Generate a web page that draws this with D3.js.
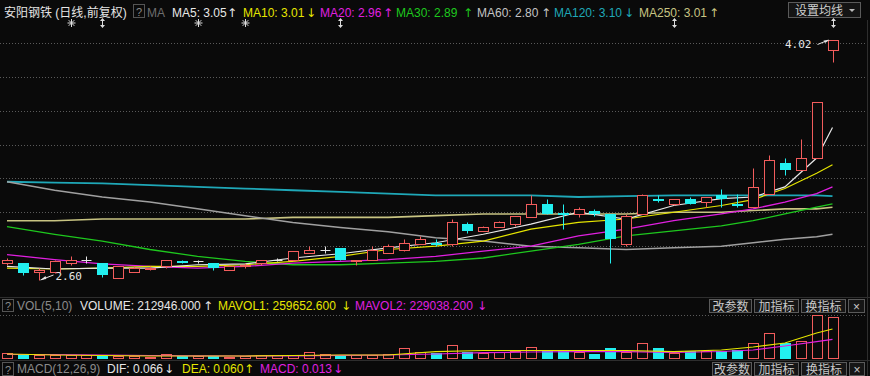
<!DOCTYPE html>
<html>
<head>
<meta charset="utf-8">
<script src="https://cdn.jsdelivr.net/npm/d3@7"></script>
<style>
html, body { margin: 0; padding: 0; background: #0a0a0a; }
svg { display: block; }
</style>
</head>
<body>
<div id="chart"></div>
<script>
// daily candles (index 0 = leftmost)
const opens  = [2.70,2.70,2.65,2.65,2.70,2.72,2.70,2.61,2.65,2.665,2.68,2.71,2.71,2.70,2.66,2.68,2.70,2.72,2.72,2.76,2.78,2.79,2.71,2.72,2.76,2.78,2.81,2.82,2.81,2.93,2.89,2.91,2.93,2.97,3.05,2.995,2.99,3.01,2.99,2.81,2.99,3.08,3.05,3.08,3.06,3.10,3.05,3.03,3.11,3.29,3.25,3.32,3.96];
const highs  = [2.73,2.70,2.67,2.72,2.74,2.74,2.70,2.68,2.68,2.68,2.72,2.72,2.72,2.70,2.69,2.70,2.72,2.73,2.77,2.80,2.80,2.79,2.72,2.80,2.81,2.84,2.86,2.84,2.96,2.94,2.92,2.95,2.98,3.10,3.08,3.05,3.03,3.02,2.99,2.99,3.11,3.10,3.08,3.09,3.09,3.14,3.11,3.26,3.34,3.32,3.43,3.65,4.02];
const lows   = [2.69,2.63,2.60,2.64,2.69,2.70,2.62,2.61,2.65,2.66,2.67,2.70,2.70,2.66,2.66,2.67,2.69,2.71,2.71,2.76,2.76,2.72,2.69,2.72,2.76,2.77,2.81,2.80,2.80,2.88,2.89,2.91,2.92,2.97,2.99,2.90,2.97,2.98,2.70,2.80,2.99,3.06,3.04,3.05,3.03,3.03,3.03,3.03,3.11,3.22,3.25,3.32,3.89];
const closes = [2.72,2.64,2.66,2.71,2.72,2.72,2.63,2.68,2.67,2.67,2.72,2.705,2.71,2.67,2.68,2.69,2.72,2.72,2.77,2.78,2.78,2.72,2.72,2.78,2.80,2.82,2.84,2.815,2.94,2.89,2.91,2.94,2.98,3.05,2.99,2.99,3.02,2.99,2.84,2.98,3.10,3.075,3.08,3.05,3.09,3.08,3.045,3.15,3.31,3.25,3.32,3.65,4.02];
const volumes = [220000,175000,140000,140000,140000,140000,140000,105000,105000,80000,165000,105000,105000,105000,80000,105000,140000,140000,140000,255000,165000,150000,140000,140000,175000,375000,255000,210000,490000,245000,210000,245000,280000,420000,280000,280000,245000,175000,385000,245000,560000,385000,212946,280000,280000,280000,315000,560000,910000,560000,630000,1540000,1470000];

// moving averages, read at these candle indices
const maIdx  = [0,3,6,9,12,15,18,21,24,27,30,33,36,39,42,45,47,49,51,52];
const ma5    = [2.68,2.665,2.67,2.67,2.69,2.695,2.73,2.755,2.79,2.82,2.87,2.93,3.00,2.96,3.04,3.08,3.09,3.15,3.32,3.50];
const ma10   = [2.67,2.665,2.67,2.68,2.68,2.69,2.71,2.74,2.78,2.80,2.83,2.90,2.94,2.96,3.00,3.04,3.075,3.14,3.23,3.28];
const ma20   = [2.75,2.72,2.695,2.68,2.67,2.68,2.70,2.71,2.72,2.74,2.77,2.80,2.86,2.90,2.95,2.99,3.02,3.06,3.11,3.15];
const ma30   = [2.915,2.87,2.83,2.78,2.74,2.71,2.69,2.69,2.70,2.71,2.73,2.77,2.81,2.86,2.89,2.92,2.95,2.99,3.03,3.05];
const ma60   = [3.18,3.13,3.09,3.06,3.02,2.98,2.94,2.91,2.885,2.85,2.83,2.80,2.79,2.78,2.79,2.80,2.82,2.84,2.855,2.87];
const ma120  = [3.18,3.175,3.17,3.16,3.15,3.14,3.13,3.12,3.11,3.10,3.10,3.10,3.09,3.095,3.10,3.10,3.10,3.10,3.10,3.095];
const ma250  = [2.95,2.95,2.96,2.96,2.96,2.96,2.97,2.97,2.97,2.98,2.99,2.99,2.99,2.99,3.00,3.00,3.01,3.02,3.02,3.03];
const mavol1 = [175000,140000,122500,105000,105000,105000,122500,140000,140000,255000,297500,297500,297500,297500,259653,315000,420000,560000,910000,1050000];
const mavol2 = [157500,157500,140000,122500,112000,105000,112000,129500,140000,175000,220500,245000,255500,255500,229038,262500,315000,455000,605500,689500];

const priceTicks = [2.80, 3.00, 3.20, 3.40, 3.60, 3.80, 4.00];
const maNames  = ["MA5", "MA10", "MA20", "MA30", "MA60", "MA120", "MA250"];
const maShown  = ["3.05", "3.01", "2.96", "2.89", "2.80", "3.10", "3.01"];
const maTrend  = ["↑", "↓", "↑", "↑", "↑", "↓", "↑"];
const markerIdx  = [4, 6, 12, 15, 21, 42, 52];
const markerKind = ["star", "arrow", "star", "star", "arrow", "arrow", "arrow"];

const W = 870, H = 376;
const RED = "#f25c5c", CYAN = "#22f0f0", WHITE = "#e6e6e6";
const maColors = ["#e8e8e8", "#e6e600", "#e020e0", "#1ec81e", "#a0a0a0", "#1fa8b8", "#c8c482"];
const FONT = "'Liberation Sans', Arial, 'Noto Sans CJK SC', sans-serif";

const svg = d3.select("#chart").append("svg")
    .attr("width", W).attr("height", H)
    .style("background", "#0a0a0a");

const x = d3.scaleLinear().domain([0, 52]).range([7, 832.5]);
const y = d3.scaleLinear().domain([2.60, 4.02]).range([280, 39.5]);
const yv = d3.scaleLinear().domain([0, 1540000]).range([359, 315]);
const cxOf = i => Math.round(x(i)) + 0.5;
const py = v => Math.round(y(v)) + 0.5;

// grid
svg.append("g").selectAll("line").data(priceTicks).join("line")
    .attr("x1", 0).attr("x2", 866)
    .attr("y1", d => py(d)).attr("y2", d => py(d))
    .attr("stroke", "#5a5a5a").attr("stroke-dasharray", "1,2");
svg.append("line").attr("x1", 0).attr("x2", 866)
    .attr("y1", Math.round(yv(1540000)) + 0.5).attr("y2", Math.round(yv(1540000)) + 0.5)
    .attr("stroke", "#5a5a5a").attr("stroke-dasharray", "1,2");

// panel separators
[297.5, 360.5].forEach(v => svg.append("line").attr("x1", 0).attr("x2", W)
    .attr("y1", v).attr("y2", v).attr("stroke", "#2e2e2e"));
svg.append("line").attr("x1", 867.5).attr("x2", 867.5).attr("y1", 20).attr("y2", H).attr("stroke", "#2e2e2e");

// moving average lines
const maSeries = [ma250, ma120, ma60, ma30, ma20, ma10, ma5];
const maSeriesColor = [maColors[6], maColors[5], maColors[4], maColors[3], maColors[2], maColors[1], maColors[0]];
const maWidth = [1.6, 1.8, 1.5, 1.3, 1.3, 1.2, 1.2];
const line = d3.line().x(d => x(d[0])).y(d => y(d[1]));
maSeries.forEach((s, k) => {
    svg.append("path")
        .datum(maIdx.map((i, j) => [i, s[j]]))
        .attr("d", line).attr("fill", "none")
        .attr("stroke", maSeriesColor[k]).attr("stroke-width", maWidth[k]);
});

// candles
const cg = svg.append("g");
closes.forEach((c, i) => {
    const o = opens[i], hi = highs[i], lo = lows[i];
    const cx = cxOf(i);
    if (o === c) {
        cg.append("line").attr("x1", cx).attr("x2", cx).attr("y1", py(hi)).attr("y2", py(lo)).attr("stroke", WHITE);
        cg.append("line").attr("x1", cx - 5).attr("x2", cx + 5).attr("y1", py(c)).attr("y2", py(c)).attr("stroke", WHITE);
    } else if (c > o) {
        const top = py(c), bot = Math.max(py(o), py(c) + 1);
        cg.append("line").attr("x1", cx).attr("x2", cx).attr("y1", py(hi)).attr("y2", top).attr("stroke", RED);
        cg.append("line").attr("x1", cx).attr("x2", cx).attr("y1", bot).attr("y2", py(lo)).attr("stroke", RED);
        cg.append("rect").attr("x", cx - 5).attr("y", top).attr("width", 10).attr("height", bot - top)
            .attr("fill", "#0a0a0a").attr("stroke", RED);
    } else {
        const top = Math.round(y(o)), bot = Math.max(Math.round(y(c)), top + 2);
        cg.append("line").attr("x1", cx).attr("x2", cx).attr("y1", py(hi)).attr("y2", py(lo)).attr("stroke", CYAN);
        cg.append("rect").attr("x", cx - 5.5).attr("y", top).attr("width", 11).attr("height", bot - top)
            .attr("fill", CYAN);
    }
});

// extreme price labels
const iLow = d3.minIndex(lows), iHigh = d3.maxIndex(highs);
const mono = "'DejaVu Sans Mono', monospace";
svg.append("line").attr("x1", cxOf(iLow) + 1).attr("y1", y(lows[iLow]))
    .attr("x2", cxOf(iLow) + 14).attr("y2", y(lows[iLow]) - 5).attr("stroke", WHITE);
svg.append("path").attr("d", `M${cxOf(iLow) + 1},${y(lows[iLow])} l5,-4 l0.8,3 z`).attr("fill", WHITE);
svg.append("text").attr("x", cxOf(iLow) + 16).attr("y", y(lows[iLow]) - 0.5)
    .attr("fill", WHITE).style("font-family", mono).style("font-size", "11px")
    .text(d3.format(".2f")(lows[iLow]));
svg.append("line").attr("x1", cxOf(iHigh) - 16).attr("y1", y(highs[iHigh]) + 5)
    .attr("x2", cxOf(iHigh) - 5).attr("y2", y(highs[iHigh]) + 0.5).attr("stroke", WHITE);
svg.append("path").attr("d", `M${cxOf(iHigh) - 4},${y(highs[iHigh]) + 0.5} l-6,0.5 l1.5,2.5 z`).attr("fill", WHITE);
svg.append("text").attr("x", cxOf(iHigh) - 22).attr("y", y(highs[iHigh]) + 8.5)
    .attr("text-anchor", "end")
    .attr("fill", WHITE).style("font-family", mono).style("font-size", "11px")
    .text(d3.format(".2f")(highs[iHigh]));

// event markers under the header
markerIdx.forEach((i, k) => {
    const cx = cxOf(i), cy = 23;
    const g = svg.append("g").attr("stroke", "#dcdcdc").attr("stroke-width", 1);
    if (markerKind[k] === "star") {
        for (let a = 0; a < 4; a++) {
            const t = a * Math.PI / 4;
            g.append("line").attr("x1", cx - 4 * Math.cos(t)).attr("y1", cy - 4 * Math.sin(t))
                .attr("x2", cx + 4 * Math.cos(t)).attr("y2", cy + 4 * Math.sin(t));
        }
    } else {
        g.append("line").attr("x1", cx).attr("x2", cx).attr("y1", cy - 4).attr("y2", cy + 4);
        g.append("path").attr("d", `M${cx - 2.5},${cy - 2} L${cx},${cy - 5} L${cx + 2.5},${cy - 2} Z M${cx - 2.5},${cy + 2} L${cx},${cy + 5} L${cx + 2.5},${cy + 2} Z`)
            .attr("fill", "#dcdcdc").attr("stroke", "none");
    }
});

// volume bars
const vg = svg.append("g");
volumes.forEach((v, i) => {
    const cx = cxOf(i);
    const top = Math.round(yv(v)), base = Math.round(yv(0));
    if (closes[i] >= opens[i]) {
        vg.append("rect").attr("x", cx - 5).attr("y", top + 0.5).attr("width", 10)
            .attr("height", Math.max(base - top - 1, 1)).attr("fill", "none").attr("stroke", RED);
    } else {
        vg.append("rect").attr("x", cx - 5.5).attr("y", top).attr("width", 11)
            .attr("height", base - top).attr("fill", CYAN);
    }
});
const vline = d3.line().x(d => x(d[0])).y(d => yv(d[1]));
[[mavol2, "#e020e0"], [mavol1, "#e6e600"]].forEach(([s, col]) => {
    svg.append("path").datum(maIdx.map((i, j) => [i, s[j]]))
        .attr("d", vline).attr("fill", "none").attr("stroke", col).attr("stroke-width", 1.2);
});

// text helpers
function txt(str, xx, yy, col, size) {
    return svg.append("text").attr("x", xx).attr("y", yy).attr("fill", col)
        .style("font-family", FONT).style("font-size", (size || 12) + "px").text(str);
}
function arrow(str, xx, yy, col) {
    return txt(str, xx, yy, col, 12).style("font-family", "'DejaVu Sans', sans-serif");
}
function qbox(xx, yy, h) {
    svg.append("rect").attr("x", xx + 0.5).attr("y", yy + 0.5).attr("width", 11).attr("height", h)
        .attr("fill", "none").attr("stroke", "#555");
    txt("?", xx + 3, yy + h - 1.5, "#8a8a8a", 11);
}
function button(label, x0, x1, yy, h) {
    svg.append("rect").attr("x", x0 + 0.5).attr("y", yy + 0.5).attr("width", x1 - x0).attr("height", h)
        .attr("fill", "#161616").attr("stroke", "#5a5a5a");
    txt(label, (x0 + x1) / 2 + 0.5, yy + h - 1.5, "#c8c8c8", 12).attr("text-anchor", "middle");
}

// header row
txt("安阳钢铁 (日线,前复权)", 4, 17, "#e6e6e6", 12);
qbox(133, 4, 13);
txt("MA", 147, 17, "#6e6e6e", 12);
const maTextX  = [172, 243, 320, 396, 477, 554, 639];
const maArrowX = [227, 306, 383, 463, 541, 624, 709];
maNames.forEach((n, k) => {
    const col = maColors[k] === "#a0a0a0" ? "#c4c4c4" : maColors[k];
    txt(`${n}: ${maShown[k]}`, maTextX[k], 17, col, 12);
    arrow(maTrend[k], maArrowX[k], 17, col);
});
svg.append("rect").attr("x", 788.5).attr("y", 2.5).attr("width", 72).attr("height", 15)
    .attr("fill", "#141414").attr("stroke", "#5a5a5a");
txt("设置均线", 795, 15, "#cfcfcf", 12);
svg.append("path").attr("d", "M849,9 L855,9 L852,12 Z").attr("fill", "#bbb");

// volume header row
qbox(2, 299, 12);
txt("VOL(5,10)", 17, 310, "#8a8a8a", 12);
txt(`VOLUME: ${d3.format(".3f")(volumes[42])}`, 80, 310, "#e6e6e6", 12);
arrow("↑", 203, 310, "#e6e6e6");
txt(`MAVOL1: ${d3.format(".3f")(259652.6)}`, 218, 310, "#e6e600", 12);
arrow("↓", 341, 310, "#e6e600");
txt(`MAVOL2: ${d3.format(".3f")(229038.2)}`, 355, 310, "#e020e0", 12);
arrow("↓", 477, 310, "#e020e0");
button("改参数", 709, 751, 299, 13);
button("加指标", 754, 798, 299, 13);
button("换指标", 801, 845, 299, 13);
button("×", 848, 864, 299, 13);

// MACD header row
qbox(2, 362, 13);
txt("MACD(12,26,9)", 17, 373, "#8a8a8a", 12);
txt("DIF: 0.066", 107, 373, "#e6e6e6", 12);
arrow("↓", 164, 373, "#e6e6e6");
txt("DEA: 0.060", 182, 373, "#e6e600", 12);
arrow("↑", 244, 373, "#e6e600");
txt("MACD: 0.013", 260, 373, "#e020e0", 12);
arrow("↓", 333, 373, "#e020e0");
button("改参数", 712, 751, 362, 13);
button("加指标", 754, 798, 362, 13);
button("换指标", 801, 846, 362, 13);
button("×", 849, 864, 362, 13);
</script>
</body>
</html>
